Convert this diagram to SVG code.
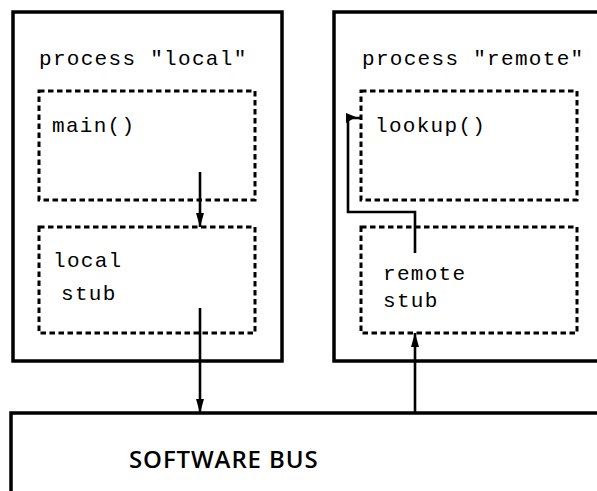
<svg xmlns="http://www.w3.org/2000/svg" width="597" height="491" viewBox="0 0 597 491">
<style>
.outer{fill:none;stroke:#000;stroke-width:3.5}
.inner{fill:none;stroke:#000;stroke-width:3;stroke-dasharray:5.5 3.5}
.conn{fill:none;stroke:#000;stroke-width:2.6}
.mono{font-family:"Liberation Mono","DejaVu Sans Mono",monospace;font-size:21px;letter-spacing:1.3px;fill:#000}
.bus{font-family:"Open Sans","DejaVu Sans",sans-serif;font-size:24px;font-weight:600;letter-spacing:0.9px;fill:#000}
</style>
<defs>
<marker id="ah" viewBox="0 0 14 8" refX="14" refY="4" markerWidth="14" markerHeight="8" markerUnits="userSpaceOnUse" orient="auto">
<path d="M0,0 L14,4 L0,8 Z" fill="#000"/>
</marker>
</defs>
<rect width="597" height="491" fill="#fff"/>
<g id="local">
<rect class="outer" x="13" y="12" width="269" height="349"/>
<text class="mono" x="39" y="65">process "local"</text>
</g>
<g id="remote">
<rect class="outer" x="334" y="12" width="280" height="349"/>
<text class="mono" x="362" y="65">process "remote"</text>
</g>
<g id="main">
<rect class="inner" x="39" y="91" width="216" height="109"/>
<text class="mono" x="52" y="132">main()</text>
</g>
<g id="localstub">
<rect class="inner" x="39" y="227" width="216" height="106"/>
<text class="mono" x="53" y="267">local</text>
<text class="mono" x="61" y="300">stub</text>
</g>
<g id="lookup">
<rect class="inner" x="361" y="91" width="216" height="109"/>
<text class="mono" x="375" y="132">lookup()</text>
</g>
<g id="remotestub">
<rect class="inner" x="361" y="227" width="216" height="106"/>
<text class="mono" x="383" y="280">remote</text>
<text class="mono" x="383" y="307">stub</text>
</g>
<g id="bus">
<rect class="outer" x="11" y="413" width="620" height="120"/>
<text class="bus" x="129" y="468">SOFTWARE BUS</text>
</g>
<g id="connectors">
<line class="conn" x1="200" y1="172" x2="200" y2="227" marker-end="url(#ah)"/>
<line class="conn" x1="200" y1="308" x2="200" y2="413" marker-end="url(#ah)"/>
<line class="conn" x1="415" y1="413" x2="415" y2="333" marker-end="url(#ah)"/>
<polyline class="conn" points="415,253 415,212 348,212 348,118 361,118"/>
<path d="M346,113 L346,123 L356,117 Z" fill="#000"/>
</g>
</svg>
